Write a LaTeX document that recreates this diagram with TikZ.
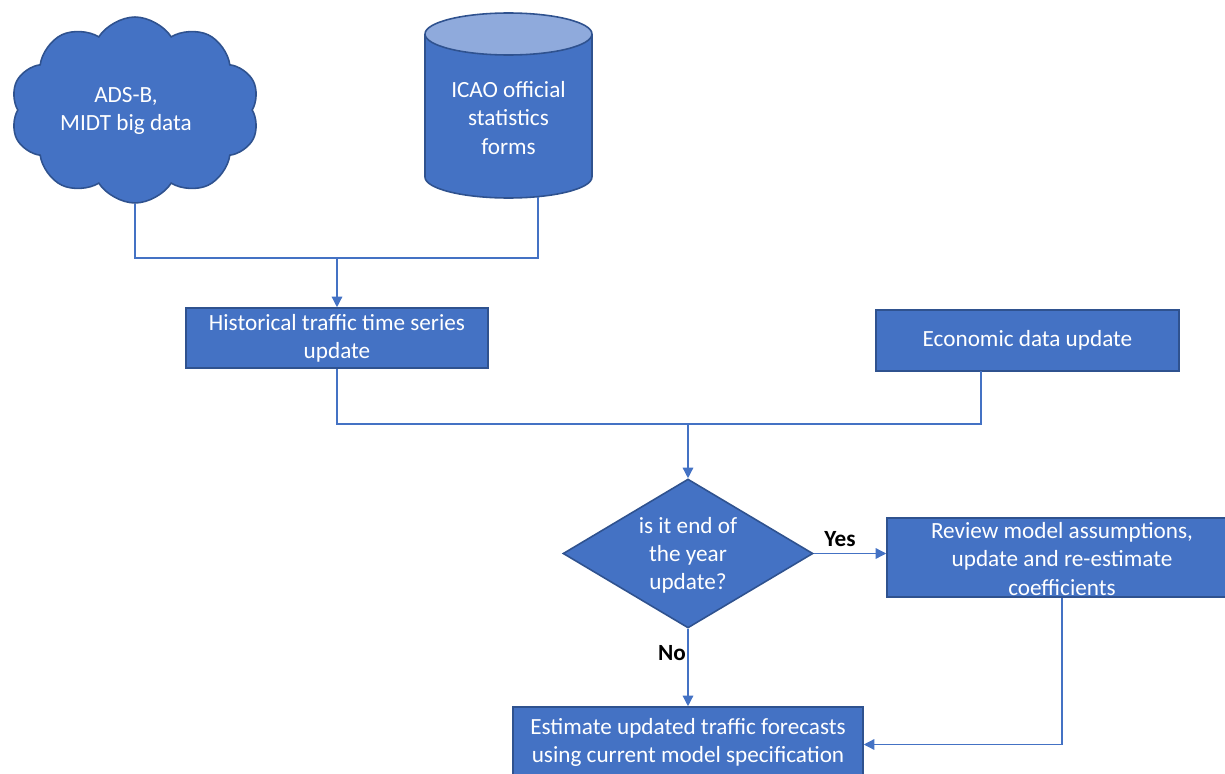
\documentclass[tikz,border=0pt]{standalone}
\usepackage{fontspec}
\setmainfont{Carlito}
\usetikzlibrary{shapes.geometric,shapes.symbols,arrows.meta}
\definecolor{fillb}{HTML}{4472C4}
\definecolor{edgeb}{HTML}{2F528F}
\definecolor{topb}{HTML}{8FAADC}
\begin{document}
\begin{tikzpicture}[x=0.02cm,y=-0.02cm,
 boxs/.style={draw=edgeb, line width=0.9pt, fill=fillb, inner sep=0pt},
 txt/.style={text=white, font=\fontsize{13.2}{16}\selectfont, align=center, inner sep=0pt},
 conn/.style={draw=fillb, line width=0.75pt},
 arr/.style={conn, -{Triangle[length=6pt,width=6pt]}},
 lab/.style={font=\fontsize{13.2}{16}\selectfont\bfseries, text=black}]
\clip (0,0) rectangle (1225,774);
% cloud
\node[boxs, cloud, cloud puffs=10, cloud puff arc=115, aspect=1.35, minimum width=4.98cm, minimum height=3.72cm] (cloud) at (135,110) {};
\node[txt] (cloudt) at (126,111) {ADS-B,\\MIDT big data};
% cylinder
\fill[fillb] (425,34) -- (425,177) arc[start angle=180,end angle=360,x radius=1.67cm,y radius=0.42cm] -- (592,34) -- cycle;
\draw[edgeb, line width=0.9pt] (425,34) -- (425,177) arc[start angle=180,end angle=360,x radius=1.67cm,y radius=0.42cm] -- (592,34);
\draw[edgeb, line width=0.9pt, fill=topb] (508.5,34) ellipse [x radius=1.67cm, y radius=0.42cm];
\node[txt] (icao) at (508.5,118) {ICAO official\\statistics\\forms};
\coordinate (icaob) at (538,196.6);
% boxes
\node[boxs, minimum width=6.04cm, minimum height=1.2cm] (hist) at (337,338) {};
\node[txt] at (hist) {Historical traffic time series\\update};
\node[boxs, minimum width=6.06cm, minimum height=1.22cm] (econ) at (1027.5,340.5) {};
\node[txt] at (econ) {Economic data update};
\node[boxs, diamond, minimum width=5cm, minimum height=2.98cm] (dia) at (688,553.5) {};
\node[txt] at (688,555) {is it end of\\the year\\update?};
\node[boxs, minimum width=7cm, minimum height=1.58cm] (rev) at (1062,557.5) {};
\node[txt] at (1062,559) {Review model assumptions,\\update and re-estimate\\coefficients};
\node[boxs, minimum width=7cm, minimum height=1.5cm] (est) at (688,744.5) {};
\node[txt] at (688,742) {Estimate updated traffic forecasts\\using current model specification};
% connectors
\coordinate (j1) at (hist.north |- 0,258);
\coordinate (j2) at (dia.north |- 0,424);
\coordinate (e1) at (981,371);
\draw[conn] (cloud.south) |- (j1) -| (icaob);
\draw[arr] (j1) -- (hist.north);
\draw[conn] (hist.south) |- (j2) -| (e1);
\draw[arr] (j2) -- (dia.north);
\draw[arr] (dia.east) -- (dia.east -| rev.west);
\draw[arr] (dia.south) -- (est.north);
\draw[arr] (rev.south) |- (est.east);
\node[lab] (yes) at (840,539) {Yes};
\node[lab] (no) at (672,653) {No};
\end{tikzpicture}
\end{document}
